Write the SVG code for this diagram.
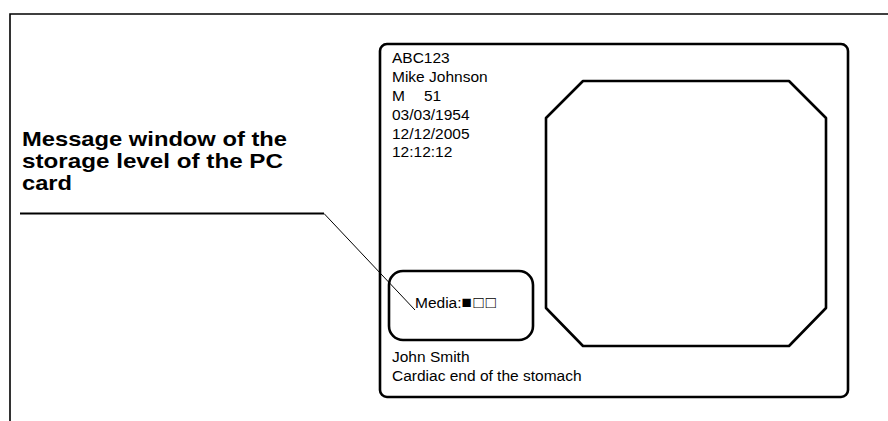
<svg xmlns="http://www.w3.org/2000/svg" width="888" height="421" viewBox="0 0 888 421">
<style>
.t{font-family:"Liberation Sans",Arial,sans-serif;font-size:15.5px;fill:#000}
.b{font-family:"Liberation Sans",Arial,sans-serif;font-size:21px;font-weight:bold;fill:#000}
.thick{fill:none;stroke:#000;stroke-width:2.6;stroke-linejoin:round}
</style>
<rect width="888" height="421" fill="#fff"/>
<path d="M10,421 V14 H888" fill="none" stroke="#000" stroke-width="1.6"/>
<g id="card">
<rect class="thick" x="380" y="44" width="468" height="353" rx="7"/>
<text class="t" x="392" y="63">ABC123</text>
<text class="t" x="392" y="82">Mike Johnson</text>
<text class="t" x="392" y="101">M<tspan x="424">51</tspan></text>
<text class="t" x="392" y="120">03/03/1954</text>
<text class="t" x="392" y="139">12/12/2005</text>
<text class="t" x="392" y="157">12:12:12</text>
<text class="t" x="392" y="362">John Smith</text>
<text class="t" x="392" y="381">Cardiac end of the stomach</text>
</g>
<g id="image-window">
<polygon class="thick" points="583,81 789,81 826,118 826,308 789,346 583,346 546,308 546,118"/>
</g>
<g id="media-window">
<rect class="thick" x="389" y="271" width="144" height="69" rx="14"/>
<text class="t" x="415" y="308">Media:<tspan style="font-size:17px;letter-spacing:1.8px">■□□</tspan></text>
</g>
<g id="label">
<text class="b" x="22" y="146" textLength="265" lengthAdjust="spacingAndGlyphs">Message window of the</text>
<text class="b" x="22" y="168" textLength="261" lengthAdjust="spacingAndGlyphs">storage level of the PC</text>
<text class="b" x="22" y="190" textLength="50" lengthAdjust="spacingAndGlyphs">card</text>
</g>
<g id="connectors">
<line x1="20" y1="213.5" x2="324" y2="213.5" stroke="#000" stroke-width="2"/>
<line x1="324" y1="213.5" x2="415" y2="310" stroke="#000" stroke-width="1"/>
</g>
</svg>
